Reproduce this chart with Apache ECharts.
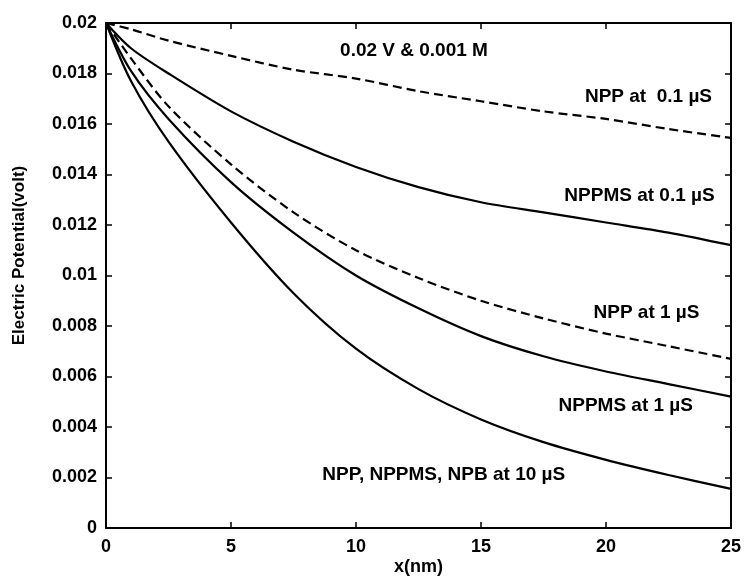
<!DOCTYPE html>
<html>
<head>
<meta charset="utf-8">
<script src="https://cdn.jsdelivr.net/npm/echarts@6/dist/echarts.min.js"></script>
<style>
  html, body { margin: 0; padding: 0; background: #ffffff; }
  #chart { width: 744px; height: 586px; }
</style>
</head>
<body>
<div id="chart"></div>
<script>
// Distance from the surface (nm)
const xNm = [0, 1, 2.5, 5, 7.5, 10, 12.5, 15, 17.5, 20, 22.5, 25];

// Electric potential (V) for each case
const nppAt01 = [0.0200, 0.01975, 0.0193, 0.0187, 0.01815, 0.0178, 0.0173, 0.0169, 0.0165, 0.0162, 0.0158, 0.01545];
const nppmsAt01 = [0.0200, 0.0190, 0.0180, 0.0165, 0.0153, 0.0143, 0.0135, 0.0129, 0.0125, 0.0121, 0.0117, 0.0112];
const nppAt1 = [0.0200, 0.0186, 0.0167, 0.0144, 0.0125, 0.0110, 0.0099, 0.0090, 0.0083, 0.0077, 0.0072, 0.0067];
const nppmsAt1 = [0.0200, 0.0181, 0.0162, 0.0137, 0.0117, 0.0100, 0.0087, 0.0076, 0.0068, 0.0062, 0.0057, 0.0052];
const allAt10 = [0.0200, 0.0177, 0.0153, 0.0121, 0.0093, 0.0071, 0.0055, 0.0043, 0.0034, 0.0027, 0.0021, 0.00155];

// Axis ticks
const xTicks = [0, 5, 10, 15, 20, 25];
const yTicks = [0, 0.002, 0.004, 0.006, 0.008, 0.01, 0.012, 0.014, 0.016, 0.018, 0.02];

// In-plot annotations: [x, y, text], anchored at the text centre
const notes = [
  [12.32, 0.01889, '0.02 V & 0.001 M'],
  [21.70, 0.01707, 'NPP at  0.1 \u00b5S'],
  [21.34, 0.01315, 'NPPMS at 0.1 \u00b5S'],
  [21.62, 0.00851, 'NPP at 1 \u00b5S'],
  [20.79, 0.00483, 'NPPMS at 1 \u00b5S'],
  [13.51, 0.00210, 'NPP, NPPMS, NPB at 10 \u00b5S']
];

const FONT = '"Liberation Sans", Arial, sans-serif';
const pairs = ys => xNm.map((x, i) => [x, ys[i]]);

function curve(name, ys, dashed) {
  return {
    name: name,
    type: 'line',
    data: pairs(ys),
    showSymbol: false,
    smooth: 0.3,
    lineStyle: { color: '#000', width: 2.2, type: dashed ? [9, 5] : 'solid' },
    z: 3
  };
}

const yFmt = v => {
  const t = yTicks.find(k => Math.abs(k - v) < 1e-9);
  return String(t === undefined ? +v.toFixed(4) : t);
};
const xFmt = v => {
  const t = xTicks.find(k => Math.abs(k - v) < 1e-9);
  return String(t === undefined ? v : t);
};

const tickLabel = { color: '#000', fontFamily: FONT, fontWeight: 'bold', fontSize: 18 };
const axisLine = { show: true, onZero: false, lineStyle: { color: '#000', width: 2 } };
const tickIn = { show: true, inside: true, length: 6, lineStyle: { color: '#000', width: 1.5 } };

const chart = echarts.init(document.getElementById('chart'), null, { renderer: 'canvas' });
chart.setOption({
  animation: false,
  backgroundColor: '#ffffff',
  grid: { left: 106, right: 9, top: 23, bottom: 58 },
  xAxis: [
    {
      type: 'value', min: 0, max: 25, interval: 5,
      name: 'x(nm)', nameLocation: 'middle', nameGap: 30, nameMoveOverlap: false,
      nameTextStyle: { color: '#000', fontFamily: FONT, fontWeight: 'bold', fontSize: 18 },
      axisLine: axisLine, axisTick: tickIn,
      axisLabel: Object.assign({ margin: 10, formatter: xFmt }, tickLabel),
      splitLine: { show: false }
    },
    {
      type: 'value', position: 'top', min: 0, max: 25, interval: 5,
      axisLine: axisLine, axisTick: tickIn, axisLabel: { show: false }, splitLine: { show: false }
    }
  ],
  yAxis: [
    {
      type: 'value', min: 0, max: 0.02, interval: 0.002,
      name: 'Electric Potential(volt)', nameLocation: 'middle', nameGap: 78, nameRotate: 90,
      nameMoveOverlap: false,
      nameTextStyle: { color: '#000', fontFamily: FONT, fontWeight: 'bold', fontSize: 17, padding: [0, 0, 0, 40] },
      axisLine: axisLine, axisTick: tickIn,
      axisLabel: Object.assign({ margin: 9, formatter: yFmt }, tickLabel),
      splitLine: { show: false }
    },
    {
      type: 'value', position: 'right', min: 0, max: 0.02, interval: 0.002,
      axisLine: axisLine, axisTick: tickIn, axisLabel: { show: false }, splitLine: { show: false }
    }
  ],
  series: [
    curve('NPP at 0.1 \u00b5S', nppAt01, true),
    curve('NPPMS at 0.1 \u00b5S', nppmsAt01, false),
    curve('NPP at 1 \u00b5S', nppAt1, true),
    curve('NPPMS at 1 \u00b5S', nppmsAt1, false),
    curve('NPP, NPPMS, NPB at 10 \u00b5S', allAt10, false)
  ]
});

// Place the annotations in data coordinates through the grid's scales
chart.setOption({
  graphic: notes.map(n => {
    const p = chart.convertToPixel({ xAxisIndex: 0, yAxisIndex: 0 }, [n[0], n[1]]);
    return {
      type: 'text', x: p[0], y: p[1], z: 10, silent: true,
      style: {
        text: n[2], fill: '#000', align: 'center', verticalAlign: 'middle',
        font: 'bold 19px ' + FONT
      }
    };
  })
});
</script>
</body>
</html>
